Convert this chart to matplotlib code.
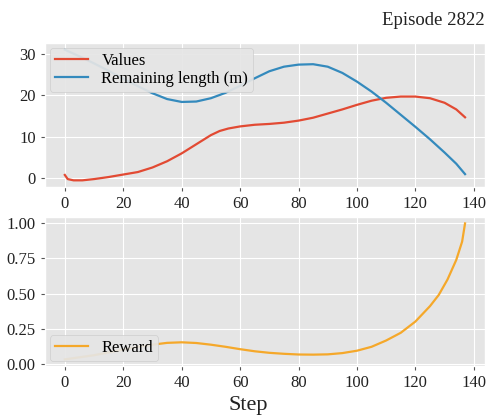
import matplotlib
matplotlib.use("Agg")
import matplotlib.pyplot as plt

plt.style.use("ggplot")
plt.rcParams["font.family"] = ["Liberation Serif", "DejaVu Serif"]

steps_v = [0, 1, 3, 6, 10, 15, 20, 25, 30, 35, 40, 45, 50, 53, 56, 60, 65, 70, 75, 80, 85, 90, 95, 100, 105, 110, 115, 120, 125, 130, 134, 137]
values = [0.8, -0.2, -0.5, -0.5, -0.2, 0.3, 0.9, 1.5, 2.6, 4.1, 6.0, 8.2, 10.4, 11.4, 12.0, 12.5, 12.9, 13.1, 13.4, 13.9, 14.6, 15.6, 16.6, 17.7, 18.7, 19.4, 19.7, 19.7, 19.3, 18.2, 16.6, 14.7]

steps_r = [0, 5, 10, 15, 20, 25, 30, 35, 40, 45, 50, 55, 60, 65, 70, 75, 80, 85, 90, 95, 100, 105, 110, 115, 120, 125, 130, 134, 137]
remaining = [31.0, 29.4, 27.7, 25.9, 24.0, 22.2, 20.5, 19.1, 18.4, 18.5, 19.3, 20.6, 22.3, 24.1, 25.8, 26.9, 27.4, 27.5, 26.9, 25.4, 23.3, 20.9, 18.2, 15.3, 12.4, 9.4, 6.2, 3.5, 1.0]

steps_w = [0, 5, 10, 15, 20, 25, 30, 35, 40, 45, 50, 55, 60, 65, 70, 75, 80, 85, 90, 95, 100, 105, 110, 115, 120, 125, 128, 131, 134, 136, 137]
reward = [0.03, 0.045, 0.06, 0.08, 0.10, 0.12, 0.135, 0.148, 0.152, 0.147, 0.135, 0.12, 0.103, 0.088, 0.077, 0.07, 0.065, 0.064, 0.066, 0.075, 0.092, 0.12, 0.165, 0.22, 0.30, 0.41, 0.49, 0.60, 0.74, 0.87, 1.0]

xticks = [0, 20, 40, 60, 80, 100, 120, 140]

fig = plt.figure(figsize=(4.87, 4.19), dpi=100)
ax1 = fig.add_axes([0.092, 0.554, 0.904, 0.343])
ax2 = fig.add_axes([0.092, 0.126, 0.904, 0.357])

ax1.plot(steps_v, values, color="#E24A33", lw=1.6, label="Values")
ax1.plot(steps_r, remaining, color="#348ABD", lw=1.6, label="Remaining length (m)")
ax2.plot(steps_w, reward, color="#F5A82A", lw=1.6, label="Reward")

for ax in (ax1, ax2):
    ax.set_xticks(xticks)
    ax.tick_params(labelsize=12, colors="#555555", labelcolor="#222222", length=3)

ax1.set_yticks([0, 10, 20, 30])
ax2.set_yticks([0.0, 0.25, 0.5, 0.75, 1.0])
ax2.set_yticklabels(["0.00", "0.25", "0.50", "0.75", "1.00"])

ax1.legend(loc="upper left", fontsize=12, handlelength=2.0, borderaxespad=0.3,
           labelspacing=0.1, borderpad=0.3, handletextpad=0.8, framealpha=0.92)
ax2.legend(loc="lower left", fontsize=12, handlelength=2.0, borderaxespad=0.3,
           borderpad=0.3, handletextpad=0.8, framealpha=0.92)

ax1.set_title("Episode 2822", loc="right", fontsize=13.5, color="#222222", pad=13)
fig.text(0.51, 0.033, "Step", ha="center", va="center", fontsize=16, color="#222222")

fig.savefig("out.png", dpi=100)
